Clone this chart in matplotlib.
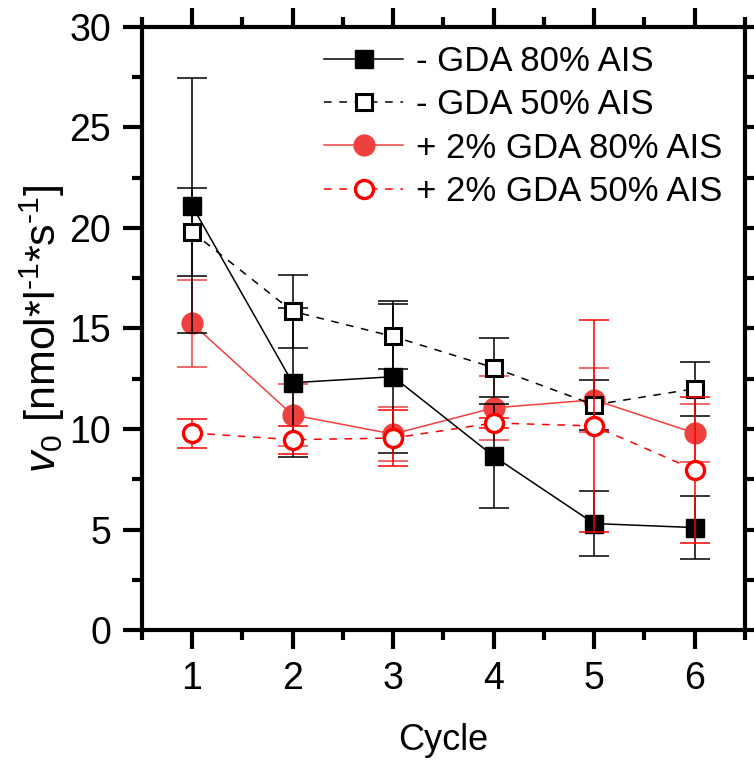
import matplotlib
matplotlib.use('Agg')
import matplotlib.pyplot as plt
from matplotlib.ticker import MultipleLocator, FixedLocator

plt.rcParams['font.family'] = ['Liberation Sans', 'DejaVu Sans']
plt.rcParams['mathtext.fontset'] = 'custom'
plt.rcParams['mathtext.rm'] = 'Liberation Sans'
plt.rcParams['mathtext.it'] = 'Liberation Sans:italic'

# data
cycles = [1, 2, 3, 4, 5, 6]

gda80_minus = [21.1, 12.3, 12.6, 8.65, 5.3, 5.1]
gda80_minus_err = [6.35, 3.7, 3.78, 2.6, 1.6, 1.55]

gda50_minus = [19.8, 15.85, 14.6, 13.05, 11.2, 12.0]
gda50_minus_err = [2.2, 1.8, 1.6, 1.45, 1.24, 1.35]

gda80_plus = [15.25, 10.7, 9.75, 11.05, 11.45, 9.8]
gda80_plus_err = [2.15, 1.55, 1.35, 1.6, 1.6, 1.42]

gda50_plus = [9.8, 9.47, 9.55, 10.3, 10.15, 7.97]
gda50_plus_err = [0.72, 0.69, 1.4, 0.25, 5.25, 3.63]

labels = ['- GDA 80% AIS', '- GDA 50% AIS', '+ 2% GDA 80% AIS', '+ 2% GDA 50% AIS']

fig = plt.figure(figsize=(7.54, 7.62), dpi=100)
ax = fig.add_axes([0.188, 0.173, 0.800, 0.792])

light_red = '#EF4040'
pure_red = '#FF0000'
cap = 10.8
lw = 1.1

def draw(y, err, color, ls, marker, ms, mfc, mew, label, z):
    cont = ax.errorbar(cycles, y, yerr=err, color=color, lw=lw, ls=ls,
                       marker=marker, ms=ms, mfc=mfc, mec=color, capsize=cap,
                       elinewidth=lw, capthick=lw, label=label, zorder=z)
    # set marker edge after, so the caps keep their thin line
    cont[0].set_markeredgewidth(mew)
    return cont

draw(gda80_minus, gda80_minus_err, 'black', '-', 's', 13, 'black', 1, labels[0], 3)
draw(gda50_minus, gda50_minus_err, 'black', (0, (5, 5)), 's', 11.5, 'white', 2.2, labels[1], 4)
draw(gda80_plus, gda80_plus_err, light_red, '-', 'o', 15, light_red, 1, labels[2], 2)
draw(gda50_plus, gda50_plus_err, pure_red, (0, (5, 5)), 'o', 13, 'white', 2.4, labels[3], 5)

ax.set_xlim(0.5, 6.5)
ax.set_ylim(0, 30)
ax.xaxis.set_major_locator(FixedLocator(cycles))
ax.xaxis.set_minor_locator(MultipleLocator(0.5))
ax.yaxis.set_major_locator(MultipleLocator(5))
ax.yaxis.set_minor_locator(MultipleLocator(2.5))

for s in ax.spines.values():
    s.set_linewidth(3)
ax.tick_params(which='both', direction='out', width=3, top=True, right=True,
               labeltop=False, labelright=False)
ax.tick_params(which='major', length=14, labelsize=27, pad=8)
ax.tick_params(which='minor', length=7)

ax.set_xlabel('Cycle', fontsize=26, labelpad=19)
ax.set_ylabel(r'$v_\mathrm{0}$ [nmol*l$^{\text{-1}}$*s$^{\text{-1}}$]', fontsize=31, labelpad=2)

handles, labs = ax.get_legend_handles_labels()
handles = [h[0] for h in handles]
ax.legend(handles, labs, loc='upper right', frameon=False, fontsize=25,
          handlelength=2.3, handletextpad=0.35, labelspacing=0.3,
          borderaxespad=0.0, bbox_to_anchor=(0.985, 0.993))

fig.savefig('out.png', dpi=100)
